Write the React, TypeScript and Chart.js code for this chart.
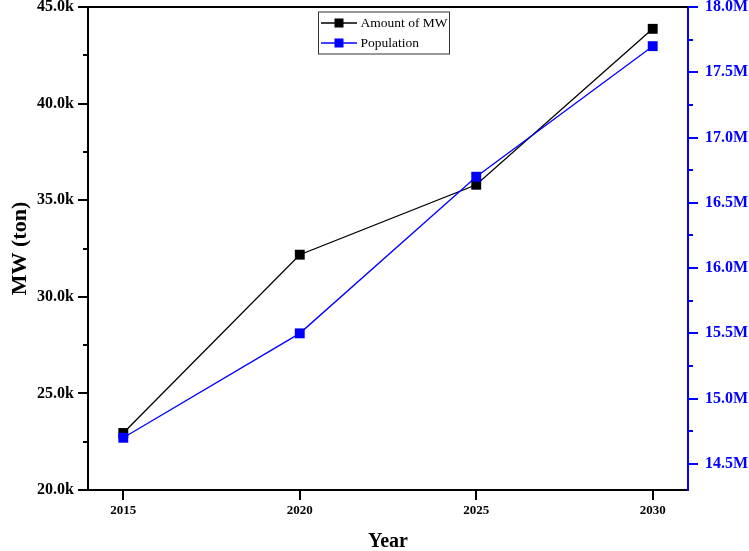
import React, { useEffect, useRef } from "react";
import { Chart, registerables } from "chart.js";

Chart.register(...registerables);

const years = [2015, 2020, 2025, 2030];
const mwAmount = [22950, 32180, 35800, 43870];
const population = [14700000, 15500000, 16700000, 17700000];

const leftTicks = [20000, 25000, 30000, 35000, 40000, 45000];
const rightTicks = [14500000, 15000000, 15500000, 16000000, 16500000, 17000000, 17500000, 18000000];

const FONT = '"Liberation Serif", "Times New Roman", serif';

const framePlugin = {
  id: "frameAndLegend",
  afterDraw(chart: any) {
    const { ctx, chartArea } = chart;
    ctx.save();
    // top frame line
    ctx.strokeStyle = "#000";
    ctx.lineWidth = 2;
    ctx.beginPath();
    ctx.moveTo(chartArea.left, chartArea.top);
    ctx.lineTo(chartArea.right, chartArea.top);
    ctx.stroke();

    // minor ticks
    const drawMinor = (scaleId: string, vals: number[], color: string, side: number) => {
      const sc = chart.scales[scaleId];
      const x0 = side < 0 ? chartArea.left : chartArea.right;
      ctx.strokeStyle = color;
      ctx.lineWidth = 2;
      for (let i = 0; i < vals.length - 1; i++) {
        const v = (vals[i] + vals[i + 1]) / 2;
        const y = Math.round(sc.getPixelForValue(v));
        ctx.beginPath();
        ctx.moveTo(x0, y);
        ctx.lineTo(x0 + side * 5, y);
        ctx.stroke();
      }
    };
    drawMinor("y", leftTicks, "#000", -1);
    drawMinor("y1", rightTicks, "#0000FF", 1);

    // legend
    const bx = chartArea.left + 230.5;
    const by = chartArea.top + 5;
    const bw = 131;
    const bh = 42;
    ctx.fillStyle = "#fff";
    ctx.fillRect(bx, by, bw, bh);
    ctx.strokeStyle = "#333";
    ctx.lineWidth = 1;
    ctx.strokeRect(bx, by, bw, bh);
    const items = [chart.data.datasets[0], chart.data.datasets[1]];
    items.forEach((ds: any, i: number) => {
      const y = by + 11 + i * 20;
      ctx.strokeStyle = ds.borderColor;
      ctx.lineWidth = 1.3;
      ctx.beginPath();
      ctx.moveTo(bx + 2.5, y);
      ctx.lineTo(bx + 38.5, y);
      ctx.stroke();
      ctx.fillStyle = ds.borderColor;
      ctx.fillRect(bx + 20.5 - 4.5, y - 4.5, 9, 9);
      ctx.fillStyle = "#000";
      ctx.font = `13.5px ${FONT}`;
      ctx.textAlign = "left";
      ctx.textBaseline = "middle";
      ctx.fillText(ds.label, bx + 42, y + 0.5);
    });
    ctx.restore();
  },
};

export default function App() {
  const ref = useRef<HTMLCanvasElement | null>(null);

  useEffect(() => {
    if (!ref.current) return;
    const chart = new Chart(ref.current, {
      type: "line",
      data: {
        datasets: [
          {
            label: "Amount of MW",
            data: years.map((x, i) => ({ x, y: mwAmount[i] })),
            borderColor: "#000000",
            backgroundColor: "#000000",
            borderWidth: 1.3,
            pointStyle: "rect",
            pointRadius: 7,
            pointHoverRadius: 7,
            pointBorderWidth: 0,
            yAxisID: "y",
            order: 2,
          },
          {
            label: "Population",
            data: years.map((x, i) => ({ x, y: population[i] })),
            borderColor: "#0000FF",
            backgroundColor: "#0000FF",
            borderWidth: 1.3,
            pointStyle: "rect",
            pointRadius: 7,
            pointHoverRadius: 7,
            pointBorderWidth: 0,
            yAxisID: "y1",
            order: 1,
          },
        ],
      },
      options: {
        animation: false,
        responsive: true,
        maintainAspectRatio: false,
        layout: { padding: { top: 7, left: 0, right: 0, bottom: 0 } },
        plugins: { legend: { display: false }, tooltip: { enabled: false } },
        scales: {
          x: {
            type: "linear",
            min: 2014,
            max: 2031,
            afterBuildTicks: (s: any) => {
              s.ticks = years.map((v) => ({ value: v }));
            },
            afterFit: (s: any) => {
              s.height = 61;
              s.paddingLeft = 0;
              s.paddingRight = 0;
            },
            grid: { drawOnChartArea: false, drawTicks: true, tickLength: 10, color: "#000", lineWidth: 2 },
            border: { display: true, color: "#000", width: 2 },
            ticks: {
              color: "#000",
              padding: 3,
              maxRotation: 0,
              font: { family: FONT, size: 13, weight: "bold" },
              callback: (v: any) => String(v),
            },
            title: {
              display: true,
              text: "Year",
              color: "#000",
              font: { family: FONT, size: 20, weight: "bold", lineHeight: 0.5 },
            },
          },
          y: {
            type: "linear",
            position: "left",
            min: 20000,
            max: 45000,
            afterBuildTicks: (s: any) => {
              s.ticks = leftTicks.map((v) => ({ value: v }));
            },
            afterFit: (s: any) => {
              s.width = 88;
              s.paddingTop = 0;
              s.paddingBottom = 0;
            },
            grid: { drawOnChartArea: false, drawTicks: true, tickLength: 10, color: "#000", lineWidth: 2 },
            border: { display: true, color: "#000", width: 2 },
            ticks: {
              color: "#000",
              padding: 4,
              font: { family: FONT, size: 16, weight: "bold" },
              callback: (v: any) => (Number(v) / 1000).toFixed(1) + "k",
            },
            title: {
              display: true,
              text: "MW (ton)",
              color: "#000",
              font: { family: FONT, size: 22, weight: "bold", lineHeight: 1.5 },
            },
          },
          y1: {
            type: "linear",
            position: "right",
            min: 14300000,
            max: 18000000,
            afterBuildTicks: (s: any) => {
              s.ticks = rightTicks.map((v) => ({ value: v }));
            },
            afterFit: (s: any) => {
              s.width = 61;
              s.paddingTop = 0;
              s.paddingBottom = 0;
            },
            grid: { drawOnChartArea: false, drawTicks: true, tickLength: 10, color: "#0000FF", lineWidth: 2 },
            border: { display: true, color: "#0000FF", width: 2 },
            ticks: {
              color: "#0000FF",
              padding: 7,
              font: { family: FONT, size: 16, weight: "bold" },
              callback: (v: any) => (Number(v) / 1000000).toFixed(1) + "M",
            },
          },
        },
      },
      plugins: [framePlugin],
    } as any);
    return () => chart.destroy();
  }, []);

  return (
    <div style={{ position: "fixed", left: 0, top: 0, width: 749, height: 551, background: "#fff" }}>
      <canvas ref={ref} />
    </div>
  );
}
